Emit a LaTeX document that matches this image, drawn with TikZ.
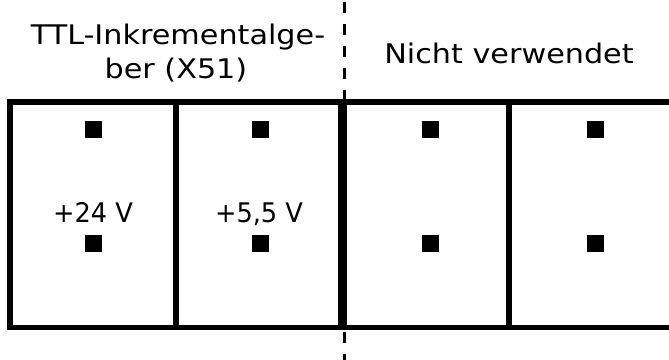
\documentclass[tikz,border=0pt]{standalone}
\usepackage{fontspec}
\setmainfont{DejaVu Sans}
\newfontfamily\headfont{DejaVu Sans}[FakeStretch=1.12]
\newfontfamily\voltfont{DejaVu Sans}[FakeStretch=0.95]
\begin{document}
\begin{tikzpicture}[x=1pt,y=-1pt,
  lbl/.style={anchor=base,inner sep=0pt,font=\headfont\fontsize{27}{34}\selectfont},
  vlbl/.style={anchor=base,inner sep=0pt,font=\voltfont\fontsize{27}{34}\selectfont},
  pin/.style={rectangle,fill=black,minimum size=17pt,inner sep=0pt},
  frame/.style={line width=5.5pt},
  sep/.style={line width=9pt},
  cut/.style={line width=3pt,dash pattern=on 11pt off 11pt,dash phase=-2pt}]
\useasboundingbox (0,0) rectangle (669,359);
% frame
\draw[frame] (672,102) -- (10,102) -- (10,327.5) -- (672,327.5);
\draw[frame] (176,102) -- (176,327.5);
\draw[frame] (509,102) -- (509,327.5);
\draw[sep] (342.5,102) -- (342.5,327.5);
% dashed separation
\coordinate (ctop) at (344.5,0);
\coordinate (cbot) at (344.5,362);
\draw[cut] (ctop) -- (cbot);
% headings
\node[lbl] (h1a) at (178,44.3) {TTL-Inkrementalge-};
\node[lbl] (h1b) at (176,78.3) {ber (X51)};
\node[lbl] (h2) at (509,63) {Nicht verwendet};
% pins
\node[pin] (p1a) at (93.5,129.5) {};
\node[pin] (p1b) at (93.5,243.5) {};
\node[pin] (p2a) at (260.8,129.5) {};
\node[pin] (p2b) at (260.8,243.5) {};
\node[pin] (p3a) at (430.5,129.5) {};
\node[pin] (p3b) at (430.5,243.5) {};
\node[pin] (p4a) at (595.5,129.5) {};
\node[pin] (p4b) at (595.5,243.5) {};
% voltages
\node[vlbl] (v1) at (93,222.7) {+24 V};
\node[vlbl] (v2) at (259,222.7) {+5,5 V};
\end{tikzpicture}
\end{document}
